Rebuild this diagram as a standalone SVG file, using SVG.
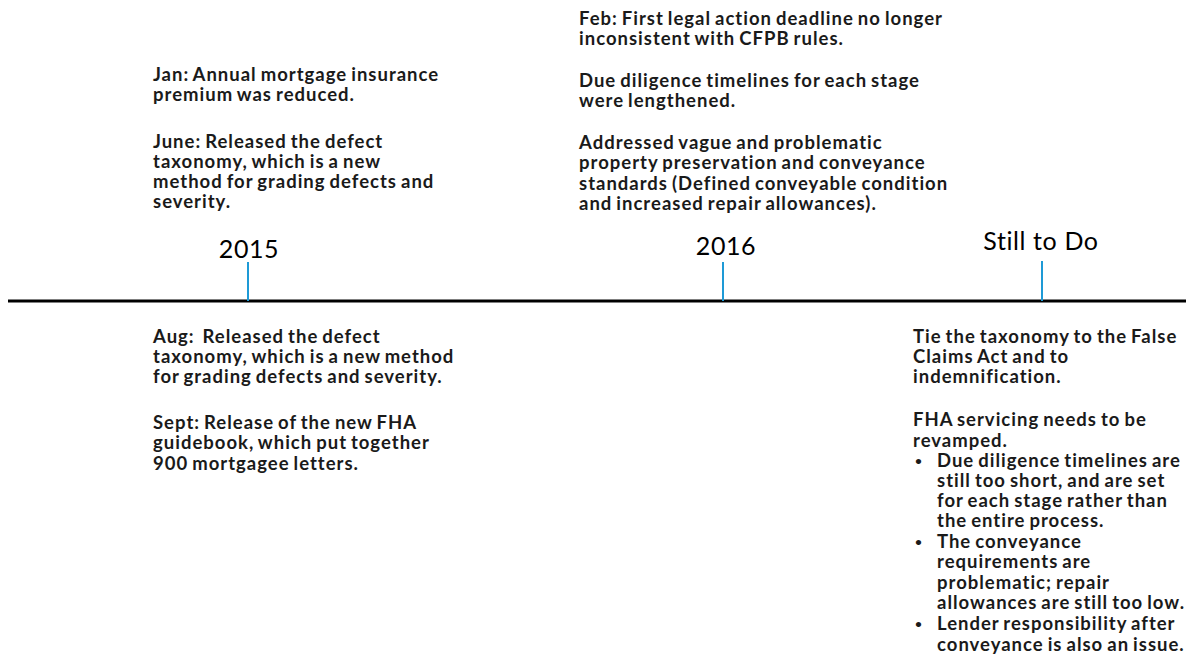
<svg xmlns="http://www.w3.org/2000/svg" width="1188" height="664" viewBox="0 0 1188 664">
<style>
.t{font-family:Lato,"Noto Sans",sans-serif;font-weight:bold;font-size:18.5px;letter-spacing:1px;word-spacing:-1.5px;fill:#1a1a1a}
.b{font-family:Lato,"Noto Sans",sans-serif;font-weight:bold;font-size:12px;fill:#1a1a1a}
.y{font-family:Lato,"Liberation Sans",sans-serif;font-size:25px;letter-spacing:0.6px;fill:#000;text-anchor:middle}
.tick{stroke:#1e9ad6;stroke-width:2}
</style>
<rect width="1188" height="664" fill="#fff"/>
<g id="connectors">
<line x1="8" y1="301" x2="1186" y2="301" stroke="#000" stroke-width="3"/>
<line class="tick" x1="248" y1="262" x2="248" y2="301"/>
<line class="tick" x1="723" y1="262" x2="723" y2="301"/>
<line class="tick" x1="1042" y1="261" x2="1042" y2="301"/>
</g>
<g id="y2015"><text class="y" x="249" y="258">2015</text></g>
<g id="y2016"><text class="y" x="726" y="255">2016</text></g>
<g id="ystill"><text class="y" x="1041" y="250">Still to Do</text></g>
<g id="n2015top">
<text class="t" x="153" y="81">Jan: Annual mortgage insurance</text>
<text class="t" x="153" y="101">premium was reduced.</text>
<text class="t" x="153" y="148">June: Released the defect</text>
<text class="t" x="153" y="168">taxonomy, which is a new</text>
<text class="t" x="153" y="188">method for grading defects and</text>
<text class="t" x="153" y="208">severity.</text>
</g>
<g id="n2016top">
<text class="t" x="579" y="25">Feb: First legal action deadline no longer</text>
<text class="t" x="579" y="45">inconsistent with CFPB rules.</text>
<text class="t" x="579" y="87">Due diligence timelines for each stage</text>
<text class="t" x="579" y="107">were lengthened.</text>
<text class="t" x="579" y="149">Addressed vague and problematic</text>
<text class="t" x="579" y="169">property preservation and conveyance</text>
<text class="t" x="579" y="190">standards (Defined conveyable condition</text>
<text class="t" x="579" y="210">and increased repair allowances).</text>
</g>
<g id="n2015bottom">
<text class="t" x="153" y="343" style="white-space:pre">Aug:  Released the defect</text>
<text class="t" x="153" y="363">taxonomy, which is a new method</text>
<text class="t" x="153" y="383">for grading defects and severity.</text>
<text class="t" x="153" y="429">Sept: Release of the new FHA</text>
<text class="t" x="153" y="449">guidebook, which put together</text>
<text class="t" x="153" y="470">900 mortgagee letters.</text>
</g>
<g id="nstill">
<text class="t" x="913" y="343">Tie the taxonomy to the False</text>
<text class="t" x="913" y="363">Claims Act and to</text>
<text class="t" x="913" y="383">indemnification.</text>
<text class="t" x="913" y="426">FHA servicing needs to be</text>
<text class="t" x="913" y="447">revamped.</text>
<text class="b" x="915" y="465">•</text>
<text class="t" x="937" y="467">Due diligence timelines are</text>
<text class="t" x="937" y="487">still too short, and are set</text>
<text class="t" x="937" y="507">for each stage rather than</text>
<text class="t" x="937" y="527">the entire process.</text>
<text class="b" x="915" y="546">•</text>
<text class="t" x="937" y="548">The conveyance</text>
<text class="t" x="937" y="568">requirements are</text>
<text class="t" x="937" y="589">problematic; repair</text>
<text class="t" x="937" y="609">allowances are still too low.</text>
<text class="b" x="915" y="628">•</text>
<text class="t" x="937" y="630">Lender responsibility after</text>
<text class="t" x="937" y="651">conveyance is also an issue.</text>
</g>
</svg>
